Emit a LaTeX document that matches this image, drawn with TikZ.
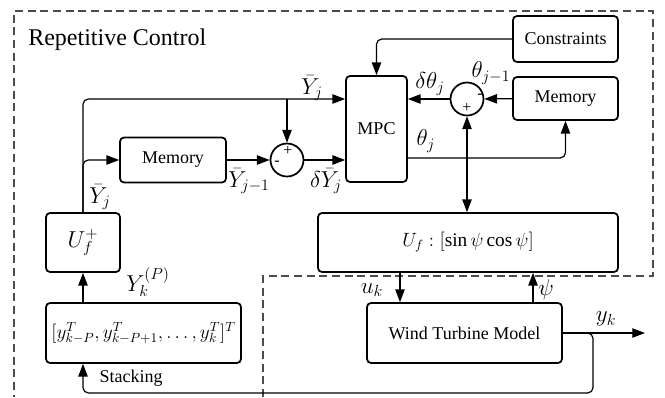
\documentclass[tikz,border=0pt]{standalone}
\usepackage{fontspec}
\setmainfont{Liberation Serif}
\usetikzlibrary{arrows.meta, positioning, calc}

\begin{document}
\begin{tikzpicture}[
  x=0.75pt, y=-0.75pt,
  every node/.style={font=\fontsize{13.5}{16}\selectfont},
  box/.style={rectangle, rounded corners=3pt, draw=black, line width=1.3pt,
              inner sep=0pt, align=center},
  sumnode/.style={circle, draw=black, line width=1.3pt, minimum size=24.75pt, inner sep=0pt},
  sgn/.style={inner sep=0pt, font=\fontsize{12}{13}\selectfont},
  lbl/.style={inner sep=0pt, font=\fontsize{17}{19}\selectfont},
  arr/.style={-{Triangle[length=9.5pt, width=7pt]}, line width=0.9pt},
  frame/.style={dashed, dash pattern=on 6pt off 3.5pt, line width=0.8pt, black!70}
]
\useasboundingbox (0,0) rectangle (665,397);

% repetitive control frame
\draw[frame] (263,397) -- (263,276) -- (653,276) -- (653,11) -- (14,11) -- (14,397);
\node[lbl, anchor=base west, font=\fontsize{18}{21}\selectfont] (title) at (28,45) {Repetitive Control};

% blocks
\node[box, minimum width=79.5pt, minimum height=33.75pt] (mem1) at (173,160) {Memory};
\node[box, minimum width=45.75pt, minimum height=79.5pt] (mpc) at (376.5,129) {MPC};
\node[box, minimum width=78.75pt, minimum height=34.5pt] (cons) at (565.5,39) {Constraints};
\node[box, minimum width=78.75pt, minimum height=32.25pt] (mem2) at (565.5,98.5) {Memory};
\node[box, minimum width=225pt, minimum height=44.25pt] (uf) at (468,242.5)
  {\fontsize{14.5}{17}\selectfont$U_f:[\sin\psi\cos\psi]$};
\node[box, minimum width=146.25pt, minimum height=45pt] (wt) at (464.5,333) {Wind Turbine Model};
\node[box, minimum width=146.25pt, minimum height=45pt] (stack) at (143.5,333)
  {\fontsize{14}{16}\selectfont$[y^T_{k-P},y^T_{k-P+1},\ldots,y^T_k]^T$};
\node[box, minimum width=55.5pt, minimum height=44.25pt] (uplus) at (83,242.5)
  {\fontsize{17.5}{20}\selectfont$U_f^+$};

% summing junctions
\node[sumnode] (sum1) at (287,160) {};
\node[sgn] (sum1p) at (288,151) {+};
\node[sgn] (sum1m) at (277,163) {-};
\node[sumnode] (sum2) at (467,99) {};
\node[sgn] (sum2m) at (480,96) {-};
\node[sgn] (sum2p) at (467,108) {+};

% connectors
\draw[arr, rounded corners=4pt] (uplus.north) |- (mpc.west |- sum2);
\draw[arr, rounded corners=4pt] (uplus.north) |- (mem1.west);
\draw[arr] (sum1 |- sum2) -- (sum1);
\draw[arr] (mem1) -- (sum1);
\draw[arr] (sum1) -- (mpc.west |- sum1);
\draw[arr, rounded corners=4pt] (cons.west) -| (mpc.north);
\draw[arr] (mem2) -- (sum2);
\draw[arr] (sum2) -- (mpc.east |- sum2);
\draw[arr, rounded corners=4pt] (mpc.east |- 0,158) -| (mem2.south);
\coordinate (jn) at (sum2 |- 0,158);
\draw[arr] (jn) -- (sum2);
\draw[arr] (jn) -- (sum2 |- uf.north);
\draw[arr] (uf.south -| 400,0) -- (wt.north -| 400,0);
\draw[arr] (wt.north -| 533,0) -- (uf.south -| 533,0);
\coordinate (yout) at (645,333);
\draw[arr] (wt.east) -- (yout);
\draw[arr, rounded corners=4pt] (wt.east) -| (593,393) -| (stack.south -| uplus);
\draw[arr] (stack.north -| uplus) -- (uplus);

% signal labels
\node[lbl] (lYtop) at (312,88) {$\bar{Y}_j$};
\node[lbl] (lYm1) at (249,181) {$\bar{Y}_{j-1}$};
\node[lbl] (ldY) at (326,181) {$\delta\bar{Y}_j$};
\node[lbl] (lYleft) at (100,197) {$\bar{Y}_j$};
\node[lbl] (lYP) at (148,282) {$Y_k^{(P)}$};
\node[lbl, font=\fontsize{13.5}{16}\selectfont] (lstack) at (131,378) {Stacking};
\node[lbl] (ldth) at (430,84) {$\delta\theta_j$};
\node[lbl] (lthm1) at (491,73) {$\theta_{j-1}$};
\node[lbl] (lth) at (426,141) {$\theta_j$};
\node[lbl] (luk) at (372,290) {$u_k$};
\node[lbl] (lpsi) at (546,290) {$\psi$};
\node[lbl] (lyk) at (606,319) {$y_k$};

\end{tikzpicture}
\end{document}
